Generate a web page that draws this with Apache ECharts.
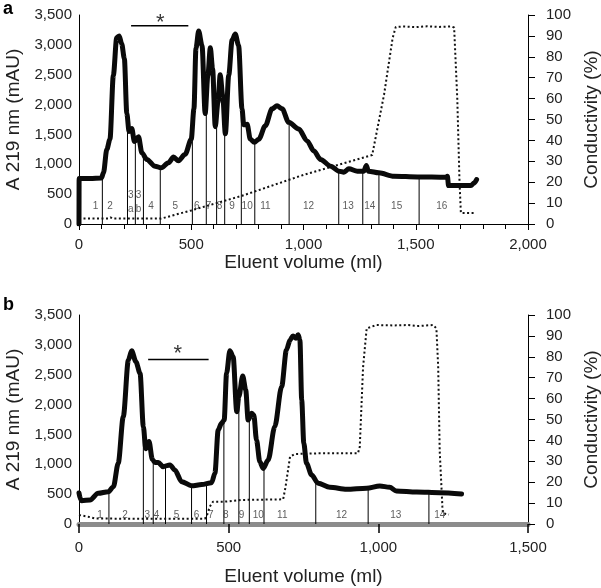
<!DOCTYPE html>
<html><head><meta charset="utf-8">
<script src="https://cdn.jsdelivr.net/npm/echarts@6/dist/echarts.min.js"></script>
<style>html,body{margin:0;padding:0;background:#fff}#c{width:601px;height:588px}</style>
</head><body><div id="c"></div>
<script>
// ---------- Panel a data ----------
const topVolume = [0, 0.5, 50, 100, 109, 124, 138, 153, 168, 179, 190, 202, 213, 223, 235, 247, 265, 280, 302, 339, 366, 399, 421, 443, 473, 500, 512, 521, 533, 548, 562, 574, 585, 595, 607, 619, 629, 640, 652, 667, 682, 696, 711, 726, 734, 749, 763, 781, 801, 830, 860, 882, 905, 934, 979, 1016, 1046, 1076, 1121, 1158, 1180, 1202, 1240, 1269, 1280, 1289, 1336, 1403, 1508, 1634, 1641, 1646, 1746, 1760, 1771];
const topAbs = [0, 760, 760, 770, 857, 1251, 1420, 2490, 3120, 3150, 3020, 2773, 1850, 1550, 1600, 1380, 1460, 1195, 1082, 969, 940, 1026, 1120, 1060, 1167, 1420, 1928, 2942, 3230, 2990, 1850, 2491, 2950, 2604, 1630, 2041, 2500, 2153, 1510, 2491, 3080, 3180, 2990, 1928, 1660, 1670, 1420, 1370, 1420, 1646, 1928, 1980, 1928, 1703, 1590, 1392, 1223, 1082, 969, 885, 868, 925, 885, 885, 981, 885, 857, 800, 789, 783, 800, 643, 643, 688, 744];
const topCondVolume = [0, 100, 130, 140, 150, 200, 366, 500, 726, 1000, 1306, 1359, 1397, 1411, 1450, 1500, 1550, 1600, 1660, 1671, 1685, 1695, 1701, 1768];
const topCond = [2.6, 2.6, 2.6, 3.2, 2.6, 2.6, 2.6, 6.5, 13.5, 23.5, 33, 62, 89, 94.3, 94.5, 94.2, 94.6, 94.3, 94.5, 94, 60, 20, 5.3, 5.3];
const topCuts = [104, 216, 251, 287, 362, 505, 567, 613, 649, 723, 783, 936, 1157, 1264, 1336, 1515];
const topFracNames = ['1','2','3\na','3\nb','4','5','6','7','8','9','10','11','12','13','14','15','16'];
const topFracX = [74, 138, 231, 265, 321, 429, 525, 577, 626, 682, 749, 830, 1022, 1199, 1295, 1415, 1616];
const topFracY = [293, 293, 363, 363, 293, 293, 293, 293, 293, 293, 293, 293, 293, 293, 293, 293, 293];
const topStarRange = [232, 487];
const topStarLevel = 3320;
const topStarPos = [362, 3370];

// ---------- Panel b data ----------
const botVolume = [0, 5, 9, 37, 64, 98, 115, 131, 148, 165, 176, 190, 204, 215, 223, 234, 245, 254, 265, 281, 304, 320, 343, 376, 410, 443, 454, 465, 476, 485, 493, 504, 515, 527, 534, 547, 557, 565, 577, 584, 593, 604, 615, 632, 654, 677, 693, 705, 715, 725, 732, 738, 744, 751, 760, 777, 799, 838, 894, 961, 1005, 1038, 1060, 1128, 1205, 1278];
const botAbs = [520, 420, 390, 402, 514, 541, 625, 1017, 1798, 2747, 2900, 2719, 2524, 1630, 1260, 1380, 1080, 1030, 1030, 960, 990, 905, 709, 640, 660, 692, 849, 1575, 1686, 1742, 2524, 2900, 2802, 1880, 2133, 2480, 2245, 1740, 1854, 1826, 1407, 1044, 930, 1072, 1630, 2300, 2915, 3080, 3150, 3110, 3170, 3082, 2077, 1352, 1017, 821, 682, 615, 581, 598, 637, 615, 553, 536, 525, 503];
const botCondVolume = [0, 30, 53, 150, 300, 420, 426, 437, 448, 487, 543, 682, 690, 705, 721, 800, 932, 938, 949, 961, 994, 1050, 1100, 1128, 1183, 1194, 1200, 1205, 1214, 1216, 1236];
const botCond = [4.3, 3.5, 2.7, 2.5, 2.5, 2.5, 3.5, 8.3, 10.7, 10.7, 11.5, 11.8, 17.8, 32.2, 33.5, 33.8, 33.8, 37, 75, 93.6, 95.2, 95, 95.2, 94.7, 95.2, 93.6, 75, 35, 8.3, 5.1, 4.5];
const botCuts = [100, 215, 248, 289, 376, 426, 484, 534, 569, 618, 791, 966, 1169];
const botFracNames = ['1','2','3','4','5','6','7','8','9','10','11','12','13','14'];
const botFracX = [70, 154, 228, 259, 326, 393, 440, 490, 543, 599, 679, 877, 1058, 1205];
const botFracY = [151, 151, 151, 151, 151, 151, 151, 151, 151, 151, 151, 151, 151, 151];
const botStarRange = [231, 433];
const botStarLevel = 2755;
const botStarPos = [330, 2850];

const xTitle = 'Eluent volume (ml)';
const yLeftTitle = 'A 219 nm (mAU)';
const yRightTitle = 'Conductivity (%)';

// ---------- helpers ----------
const FONT = '"Liberation Sans", Arial, Helvetica, sans-serif';
const zip = (a, b) => a.map((v, i) => [v, b[i]]);
function interp(xs, ys, x) {
  for (let i = 1; i < xs.length; i++) {
    if (x <= xs[i]) { const t = (x - xs[i-1]) / (xs[i] - xs[i-1]); return ys[i-1] + t * (ys[i] - ys[i-1]); }
  }
  return ys[ys.length - 1];
}
const comma = v => v.toLocaleString('en-US');

function xAxisCfg(grid, max, bottomStyle) {
  const base = {
    type: 'value', gridIndex: grid, min: 0, max: max, interval: 500,
    splitLine: { show: false },
    axisLabel: { formatter: comma, fontSize: 15, color: '#222', fontFamily: FONT, margin: bottomStyle ? 16 : 13 },
    name: xTitle, nameLocation: 'middle', nameGap: bottomStyle ? 43 : 27,
    nameTextStyle: { fontSize: 19, color: '#222', fontFamily: FONT }
  };
  if (bottomStyle) {
    base.axisLine = { lineStyle: { color: '#8c8c8c', width: 5 } };
    base.axisTick = { show: true, length: 9, lineStyle: { color: '#000', width: 1.5 } };
  } else {
    base.axisLine = { lineStyle: { color: '#000', width: 1 } };
    base.axisTick = { show: true, length: 6, lineStyle: { color: '#000' } };
    base.minorTick = { show: true, splitNumber: 5, length: 5, lineStyle: { color: '#000' } };
  }
  return base;
}
function yLeftCfg(grid) {
  return {
    type: 'value', gridIndex: grid, min: 0, max: 3500, interval: 500, position: 'left',
    splitLine: { show: false },
    axisLine: { show: true, lineStyle: { color: '#000', width: 1 } },
    axisTick: { show: false },
    axisLabel: { formatter: comma, fontSize: 15, color: '#222', fontFamily: FONT, margin: 7 },
    name: yLeftTitle, nameLocation: 'middle', nameGap: 54, nameRotate: 90,
    nameTextStyle: { fontSize: 19, color: '#222', fontFamily: FONT }
  };
}
function yRightCfg(grid) {
  return {
    type: 'value', gridIndex: grid, min: 0, max: 100, interval: 10, position: 'right',
    splitLine: { show: false },
    axisLine: { show: true, lineStyle: { color: '#000', width: 1 } },
    axisTick: { show: true, length: 7, lineStyle: { color: '#000' } },
    axisLabel: { fontSize: 15, color: '#222', fontFamily: FONT, margin: 18 },
    name: yRightTitle, nameLocation: 'middle', nameGap: 50, nameRotate: 90,
    nameTextStyle: { fontSize: 19, color: '#222', fontFamily: FONT }
  };
}
function panelSeries(idx, vol, abs, cvol, cond, cuts, names, fx, fy, starRange, starLevel, starPos, labelSize) {
  const xi = idx, yl = idx * 2, yr = idx * 2 + 1;
  return [
    { type: 'custom', xAxisIndex: xi, yAxisIndex: yl, z: 2, silent: true,
      data: cuts.map(c => [c, interp(vol, abs, c)]),
      encode: { x: 0, y: 1 },
      renderItem: (params, api) => {
        const p0 = api.coord([api.value(0), 0]);
        const p1 = api.coord([api.value(0), api.value(1)]);
        return { type: 'line', shape: { x1: p0[0], y1: p0[1], x2: p1[0], y2: p1[1] },
                 style: { stroke: '#000', lineWidth: 1 } };
      } },
    { type: 'line', xAxisIndex: xi, yAxisIndex: yr, z: 3, data: zip(cvol, cond), symbol: 'none',
      lineStyle: { color: '#111', width: 2, type: [2, 2.5] } },
    { type: 'line', xAxisIndex: xi, yAxisIndex: yl, z: 5, data: zip(vol, abs), symbol: 'none',
      smooth: 0.3, smoothMonotone: 'x',
      lineStyle: { color: '#0a0a0a', width: 5, join: 'round', cap: 'round' } },
    { type: 'scatter', xAxisIndex: xi, yAxisIndex: yl, z: 6, symbolSize: 1,
      itemStyle: { color: 'rgba(0,0,0,0)' },
      data: names.map((n, i) => [fx[i], fy[i], n]),
      label: { show: true, position: 'inside', formatter: p => p.data[2], fontSize: labelSize,
               color: '#333', fontFamily: FONT, lineHeight: 14 } },
    { type: 'line', xAxisIndex: xi, yAxisIndex: yl, z: 5, symbol: 'none',
      data: starRange.map(x => [x, starLevel]), lineStyle: { color: '#000', width: 1.5 } },
    { type: 'scatter', xAxisIndex: xi, yAxisIndex: yl, z: 6, symbolSize: 1,
      itemStyle: { color: 'rgba(0,0,0,0)' }, data: [[starPos[0], starPos[1], '*']],
      label: { show: true, position: 'inside', formatter: '*', fontSize: 22, color: '#000',
               fontFamily: FONT } }
  ];
}

const chart = echarts.init(document.getElementById('c'), null, { renderer: 'canvas' });
chart.setOption({
  animation: false,
  backgroundColor: '#fff',
  grid: [
    { left: 79, right: 73, top: 15, height: 209, containLabel: false, outerBoundsMode: 'none' },
    { left: 79, right: 73, top: 315, height: 209, containLabel: false, outerBoundsMode: 'none' }
  ],
  xAxis: [xAxisCfg(0, 2000, false), xAxisCfg(1, 1500, true)],
  yAxis: [yLeftCfg(0), yRightCfg(0), yLeftCfg(1), yRightCfg(1)],
  graphic: [
    { type: 'text', left: 3, top: 0, style: { text: 'a', fontSize: 18, fontWeight: 'bold', fontFamily: FONT, fill: '#000' } },
    { type: 'text', left: 3, top: 296, style: { text: 'b', fontSize: 18, fontWeight: 'bold', fontFamily: FONT, fill: '#000' } }
  ],
  series: [].concat(
    panelSeries(0, topVolume, topAbs, topCondVolume, topCond, topCuts, topFracNames, topFracX, topFracY, topStarRange, topStarLevel, topStarPos, 10),
    panelSeries(1, botVolume, botAbs, botCondVolume, botCond, botCuts, botFracNames, botFracX, botFracY, botStarRange, botStarLevel, botStarPos, 10)
  )
});
</script></body></html>
